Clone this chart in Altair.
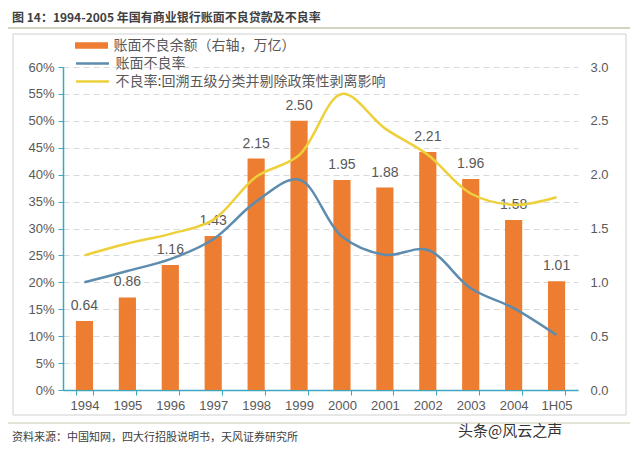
import altair as alt
import pandas as pd

years = ["1994", "1995", "1996", "1997", "1998", "1999", "2000", "2001", "2002", "2003", "2004", "1H05"]
balance = [0.64, 0.86, 1.16, 1.43, 2.15, 2.50, 1.95, 1.88, 2.21, 1.96, 1.58, 1.01]
book_rate = [0.200, 0.221, 0.243, 0.280, 0.350, 0.391, 0.285, 0.251, 0.260, 0.189, 0.152, 0.102]
adj_rate = [0.250, 0.272, 0.290, 0.316, 0.396, 0.436, 0.550, 0.486, 0.437, 0.365, 0.344, 0.358]
left_ticks = [0.0, 0.05, 0.10, 0.15, 0.20, 0.25, 0.30, 0.35, 0.40, 0.45, 0.50, 0.55, 0.60]
right_ticks = [0.0, 0.5, 1.0, 1.5, 2.0, 2.5, 3.0]

bar_name = "账面不良余额（右轴，万亿）"
book_name = "账面不良率"
adj_name = "不良率:回溯五级分类并剔除政策性剥离影响"

title_text = "图 14：1994-2005 年国有商业银行账面不良贷款及不良率"
source_text = "资料来源：中国知网，四大行招股说明书，天风证券研究所"
mark_text = "头条@风云之声"

CJK = "Noto Sans CJK SC"
NUM = "Liberation Sans"
GRAY = "#595959"
TEAL = "#3FA6C0"
ORANGE = "#ED7D31"
BLUE = "#5E8CAE"
YELLOW = "#EDD03A"

bars_df = pd.DataFrame({"year": years, "balance": balance, "series": bar_name})
lines_df = pd.DataFrame({
    "year": years * 2,
    "rate": book_rate + adj_rate,
    "series": [book_name] * len(years) + [adj_name] * len(years),
})

x_enc = alt.X("year:N", sort=years, title=None,
              scale=alt.Scale(paddingInner=0.6, paddingOuter=0.3),
              axis=alt.Axis(labelAngle=0, labelFont=NUM, labelFontSize=13, labelColor=GRAY,
                            domainColor=TEAL, domainWidth=1.5, tickColor=TEAL, tickSize=5,
                            tickBand="extent", labelPadding=4))

right_y = alt.Y("balance:Q", scale=alt.Scale(domain=[0, 3]), title=None,
                axis=alt.Axis(orient="right", values=right_ticks, format=".1f",
                              domain=False, ticks=False, grid=False, labelFont=NUM,
                              labelFontSize=13, labelColor=GRAY, labelPadding=12))

bars = alt.Chart(bars_df).mark_bar(color=ORANGE).encode(
    x=x_enc,
    y=right_y,
    fill=alt.Fill("series:N", scale=alt.Scale(domain=[bar_name], range=[ORANGE]),
                  legend=alt.Legend(title=None, orient="none", legendX=20, legendY=-30,
                                    symbolType="M-2,-0.4H2V0.4H-2Z", symbolSize=272,
                                    symbolStrokeWidth=0, labelFont=CJK, labelFontSize=14,
                                    labelColor=GRAY, labelOffset=13.5, labelLimit=0, padding=0)),
)

labels = alt.Chart(bars_df).mark_text(baseline="alphabetic", dy=-11, font=NUM, fontSize=14,
                                      color=GRAY).encode(
    x=alt.X("year:N", sort=years),
    y=right_y,
    text=alt.Text("balance:Q", format=".2f"),
)

bar_layer = alt.layer(bars, labels)

lines = alt.Chart(lines_df).mark_line(interpolate="catmull-rom", strokeWidth=2.5).encode(
    x=alt.X("year:N", sort=years),
    y=alt.Y("rate:Q", scale=alt.Scale(domain=[0, 0.6]), title=None,
            axis=alt.Axis(orient="left", values=left_ticks, format=".0%",
                          domainColor=TEAL, domainWidth=1.5, tickColor=TEAL, tickSize=5,
                          labelFont=NUM, labelFontSize=13, labelColor=GRAY, labelPadding=4,
                          grid=True, gridColor="#D9D9D9", gridDash=[6, 4], gridWidth=1)),
    stroke=alt.Stroke("series:N", scale=alt.Scale(domain=[book_name, adj_name], range=[BLUE, YELLOW]),
                      legend=alt.Legend(title=None, orient="none", legendX=20, legendY=-13,
                                        symbolType="M-2,0H2", symbolSize=272, symbolStrokeWidth=2.5,
                                        labelFont=CJK, labelFontSize=14, labelColor=GRAY,
                                        labelOffset=13.5, labelLimit=0, rowPadding=1, padding=0)),
)

# decorations (page furniture)
frame = alt.Chart().mark_rect(fill=None, stroke="#D0D0D0", strokeWidth=1).encode(
    x=alt.value(-50), x2=alt.value(563), y=alt.value(-33), y2=alt.value(348))
title_rule = alt.Chart().mark_rule(color="#A8A888", strokeWidth=1).encode(
    x=alt.value(-60), x2=alt.value(567), y=alt.value(-39))
source_rule = alt.Chart().mark_rule(color="#C8C8B0", strokeWidth=1).encode(
    x=alt.value(-60), x2=alt.value(567), y=alt.value(356))
title = alt.Chart().mark_text(text=title_text, align="left", baseline="middle", font=CJK,
                              fontSize=12, fontWeight="bold", color="#404040").encode(
    x=alt.value(-51), y=alt.value(-49))
source = alt.Chart().mark_text(text=source_text, align="left", baseline="middle", font=CJK,
                               fontSize=11, color="#404040").encode(
    x=alt.value(-51), y=alt.value(371))
watermark = alt.Chart().mark_text(text=mark_text, align="left", baseline="middle", font=CJK,
                                  fontSize=15, color="#333333").encode(
    x=alt.value(395), y=alt.value(364))

chart = alt.layer(
    frame, title_rule, source_rule, bar_layer, lines, title, source, watermark
).resolve_scale(y="independent", fill="independent", stroke="independent").properties(
    width=515, height=323,
    autosize=alt.AutoSizeParams(type="none"),
    padding={"left": 55, "top": 59, "right": 54, "bottom": 55},
    background="white",
).configure_view(stroke=None)

chart.save("out.html", embed_options={"renderer": "svg", "actions": False})
